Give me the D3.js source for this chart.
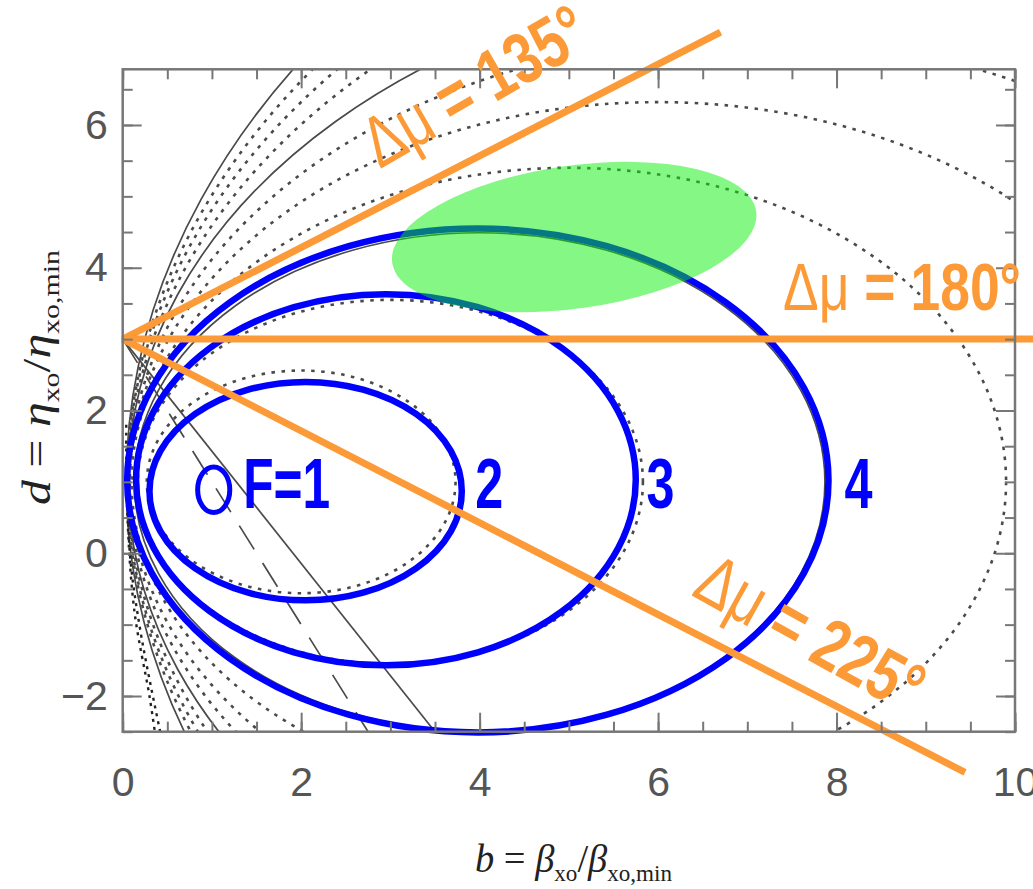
<!DOCTYPE html>
<html><head><meta charset="utf-8">
<script src="https://cdn.jsdelivr.net/npm/d3@7/dist/d3.min.js"></script>
<style>body{margin:0;background:#fff}</style>
</head><body>
<svg id="chart" width="1033" height="889"></svg>
<script>
// ---------- data ----------
const xDomain = [0, 10];
const yDomain = [-2.5, 6.78];
const xTicksMajor = [0, 2, 4, 6, 8, 10];
const yTicksMajor = [-2, 0, 2, 4, 6];
const xTicksMinor = d3.range(0, 10.01, 0.5);
const yTicksMinor = d3.range(-2.5, 6.78, 0.5);

// gray constant-F contours (ellipses): centre, semi-axes, line style
const grayF     = [2, 3, 4, 5, 6, 7, 8, 9, 10, 11, 12];
const grayCx    = [2, 3, 4, 5, 6, 7, 8, 9, 10, 11, 12];
const grayCy    = [1, 1, 1, 1, 1, 1, 1, 1, 1, 1, 1];
const grayRx    = [1.73, 2.83, 3.87, 4.90, 5.92, 6.93, 7.94, 8.94, 9.95, 10.95, 11.96];
const grayRy    = [1.56, 2.55, 3.49, 4.40, 5.32, 6.23, 7.14, 8.05, 8.95, 9.86, 10.76];
const grayStyle = ["dot","dot","solid","dot","dot","dot","solid","dot","dot","dot","solid"];

// extra dark dotted traces near the lower-left edge
const edgeTrace1 = [[0.05, 1.2], [0.08, 0.0], [0.2, -1.1], [0.42, -2.5]];
const edgeTrace2 = [[0.04, 1.8], [0.05, 0.6], [0.13, -0.8], [0.3, -2.0], [0.36, -2.5]];

// gray straight lines from (0,3)
const grayLineStart = [0, 3];
const grayLineEnds  = [[3.5, -2.5], [2.75, -2.5]];
const grayLineStyle = ["solid", "dash"];

// blue highlighted F ellipses
const blueLabels = ["2", "3", "4"];
const blueCx = [2.05, 2.95, 3.98];
const blueCy = [0.87, 1.03, 1.02];
const blueRx = [1.75, 2.80, 3.93];
const blueRy = [1.53, 2.60, 3.53];
const blueLabelX = [3.95, 5.87, 8.09];
const blueLabelY = [0.64, 0.64, 0.64];
// F = 1 small circle
const f1Circle = {cx: 1.02, cy: 0.89, rx: 0.18, ry: 0.32};
const f1LabelPos = [1.35, 0.64];

// green region
const greenEllipse = {cx: 5.06, cy: 4.43, rx: 2.06, ry: 1.0, angle: -8};

// orange phase-advance lines
const muLabels   = ["135°", "180°", "225°"];
const muOrigin   = [0, 3];
const muEnds     = [[6.70, 7.30], [10.25, 3.0], [9.44, -3.07]];
const muLabelPos = [[2.88, 5.38], [7.40, 3.41], [6.36, -0.58]];
const muLabelRot = [-30, 0, 29];
const muLabelLen = [248, 238, 248];
const muLabelSize = [72, 67, 72];

// ---------- layout ----------
const svg = d3.select("#chart");
const L = 122.7, R = 1015, T = 69.3, B = 731.7;
const x = d3.scaleLinear().domain(xDomain).range([L, R]);
const y = d3.scaleLinear().domain(yDomain).range([B, T]);

svg.append("defs").append("clipPath").attr("id", "plotclip")
  .append("rect").attr("x", L).attr("y", T).attr("width", R - L).attr("height", B - T);

const gray = "#4a4a4a";
const plot = svg.append("g").attr("clip-path", "url(#plotclip)");

// gray ellipses
grayF.forEach((f, i) => {
  plot.append("ellipse")
    .attr("cx", x(grayCx[i])).attr("cy", y(grayCy[i]))
    .attr("rx", x(grayCx[i] + grayRx[i]) - x(grayCx[i]))
    .attr("ry", y(grayCy[i]) - y(grayCy[i] + grayRy[i]))
    .attr("fill", "none").attr("stroke", gray)
    .attr("stroke-width", grayStyle[i] === "solid" ? 1.7 : 2.6)
    .attr("stroke-dasharray", grayStyle[i] === "solid" ? null : "3.5,6.5");
});
const line = d3.line().x(d => x(d[0])).y(d => y(d[1])).curve(d3.curveCatmullRom);
[edgeTrace1, edgeTrace2].forEach(tr => {
  plot.append("path").attr("d", line(tr)).attr("fill", "none")
    .attr("stroke", "#222").attr("stroke-width", 2.4).attr("stroke-dasharray", "3,5");
});
grayLineEnds.forEach((e, i) => {
  plot.append("line")
    .attr("x1", x(grayLineStart[0])).attr("y1", y(grayLineStart[1]))
    .attr("x2", x(e[0])).attr("y2", y(e[1]))
    .attr("stroke", gray).attr("stroke-width", 1.7)
    .attr("stroke-dasharray", grayLineStyle[i] === "dash" ? "28,16" : null);
});
// vertex marker
svg.append("circle").attr("cx", x(0) + 2).attr("cy", y(3)).attr("r", 3).attr("fill", "#111");

// blue ellipses
const blue = "#0000ff";
blueLabels.forEach((lab, i) => {
  svg.append("ellipse")
    .attr("cx", x(blueCx[i])).attr("cy", y(blueCy[i]))
    .attr("rx", x(blueCx[i] + blueRx[i]) - x(blueCx[i]))
    .attr("ry", y(blueCy[i]) - y(blueCy[i] + blueRy[i]))
    .attr("fill", "none").attr("stroke", blue).attr("stroke-width", 6.5);
});
svg.append("ellipse")
  .attr("cx", x(f1Circle.cx)).attr("cy", y(f1Circle.cy))
  .attr("rx", x(f1Circle.cx + f1Circle.rx) - x(f1Circle.cx))
  .attr("ry", y(f1Circle.cy) - y(f1Circle.cy + f1Circle.ry))
  .attr("fill", "none").attr("stroke", blue).attr("stroke-width", 5);

// green region
svg.append("ellipse")
  .attr("cx", x(greenEllipse.cx)).attr("cy", y(greenEllipse.cy))
  .attr("rx", x(greenEllipse.cx + greenEllipse.rx) - x(greenEllipse.cx))
  .attr("ry", y(greenEllipse.cy) - y(greenEllipse.cy + greenEllipse.ry))
  .attr("transform", `rotate(${greenEllipse.angle},${x(greenEllipse.cx)},${y(greenEllipse.cy)})`)
  .attr("fill", "#0cf00c").attr("fill-opacity", 0.5);

// orange lines
const orange = "#fd9a38";
muEnds.forEach(e => {
  svg.append("line")
    .attr("x1", x(muOrigin[0])).attr("y1", y(muOrigin[1]))
    .attr("x2", x(e[0])).attr("y2", y(e[1]))
    .attr("stroke", orange).attr("stroke-width", 7);
});

// frame + axes
svg.append("rect").attr("x", L).attr("y", T).attr("width", R - L).attr("height", B - T)
  .attr("fill", "none").attr("stroke", "#777").attr("stroke-width", 2.5);

function styleAxis(g) {
  g.select(".domain").remove();
  g.selectAll(".tick line").attr("stroke", "#777").attr("stroke-width", 2);
}
const tickFont = "'Liberation Sans', Arial, sans-serif";
const fmt = d => (d < 0 ? "\u2212" + Math.abs(d) : String(d));

svg.append("g").attr("transform", `translate(0,${B})`)
  .call(d3.axisBottom(x).tickValues(xTicksMajor).tickSize(-19).tickPadding(35).tickFormat(fmt))
  .call(styleAxis)
  .call(g => g.selectAll("text").attr("font-size", 41).attr("font-family", tickFont).attr("fill", "#555"));
svg.append("g").attr("transform", `translate(0,${B})`)
  .call(d3.axisBottom(x).tickValues(xTicksMinor).tickSize(-10).tickFormat(""))
  .call(styleAxis);
svg.append("g").attr("transform", `translate(0,${T})`)
  .call(d3.axisTop(x).tickValues(xTicksMajor).tickSize(-19).tickFormat(""))
  .call(styleAxis);
svg.append("g").attr("transform", `translate(0,${T})`)
  .call(d3.axisTop(x).tickValues(xTicksMinor).tickSize(-10).tickFormat(""))
  .call(styleAxis);
svg.append("g").attr("transform", `translate(${L},0)`)
  .call(d3.axisLeft(y).tickValues(yTicksMajor).tickSize(-19).tickPadding(15).tickFormat(fmt))
  .call(styleAxis)
  .call(g => g.selectAll("text").attr("font-size", 41).attr("font-family", tickFont).attr("fill", "#555"));
svg.append("g").attr("transform", `translate(${L},0)`)
  .call(d3.axisLeft(y).tickValues(yTicksMinor).tickSize(-10).tickFormat(""))
  .call(styleAxis);
svg.append("g").attr("transform", `translate(${R},0)`)
  .call(d3.axisRight(y).tickValues(yTicksMajor).tickSize(-19).tickFormat(""))
  .call(styleAxis);
svg.append("g").attr("transform", `translate(${R},0)`)
  .call(d3.axisRight(y).tickValues(yTicksMinor).tickSize(-10).tickFormat(""))
  .call(styleAxis);

// blue labels
const labFont = "'Liberation Sans Narrow', 'Liberation Sans', Arial, sans-serif";
svg.append("text").attr("x", x(f1LabelPos[0])).attr("y", y(f1LabelPos[1]))
  .attr("font-family", labFont).attr("font-weight", "bold").attr("font-size", 70)
  .attr("fill", blue).attr("textLength", 87).attr("lengthAdjust", "spacingAndGlyphs")
  .text("F=1");
blueLabels.forEach((lab, i) => {
  svg.append("text").attr("x", x(blueLabelX[i])).attr("y", y(blueLabelY[i]))
    .attr("font-family", labFont).attr("font-weight", "bold").attr("font-size", 70)
    .attr("fill", blue).attr("textLength", 28).attr("lengthAdjust", "spacingAndGlyphs")
    .text(lab);
});

// orange labels
muLabels.forEach((lab, i) => {
  const px = x(muLabelPos[i][0]), py = y(muLabelPos[i][1]);
  const t = svg.append("text").attr("x", px).attr("y", py)
    .attr("transform", `rotate(${muLabelRot[i]},${px},${py})`)
    .attr("font-family", labFont).attr("font-size", muLabelSize[i]).attr("fill", orange)
    .attr("textLength", muLabelLen[i]).attr("lengthAdjust", "spacingAndGlyphs");
  t.append("tspan").attr("font-weight", "normal").text("\u0394\u03bc");
  t.append("tspan").attr("font-weight", "bold").text(" = " + lab);
});

// axis titles
const serif = "'Liberation Serif', 'Times New Roman', serif";
function title(g, main, sym, sub1, sub2) {
  g.attr("font-family", serif).attr("fill", "#222").attr("font-size", 40);
  g.append("tspan").attr("font-style", "italic").text(main);
  g.append("tspan").text(" = ");
  g.append("tspan").attr("font-style", "italic").text(sym);
  g.append("tspan").attr("font-size", 24).attr("dy", 9).text(sub1);
  g.append("tspan").attr("dy", -9).text("/");
  g.append("tspan").attr("font-style", "italic").text(sym);
  g.append("tspan").attr("font-size", 24).attr("dy", 9).text(sub2);
}
const xt = svg.append("text").attr("x", 475).attr("y", 872)
  .attr("textLength", 197).attr("lengthAdjust", "spacingAndGlyphs");
title(xt, "b", "\u03b2", "xo", "xo,min");
const yt = svg.append("text").attr("x", 0).attr("y", 0)
  .attr("transform", "translate(50,505) rotate(-90)")
  .attr("textLength", 255).attr("lengthAdjust", "spacingAndGlyphs");
title(yt, "d", "\u03b7", "xo", "xo,min");
</script>
</body></html>
